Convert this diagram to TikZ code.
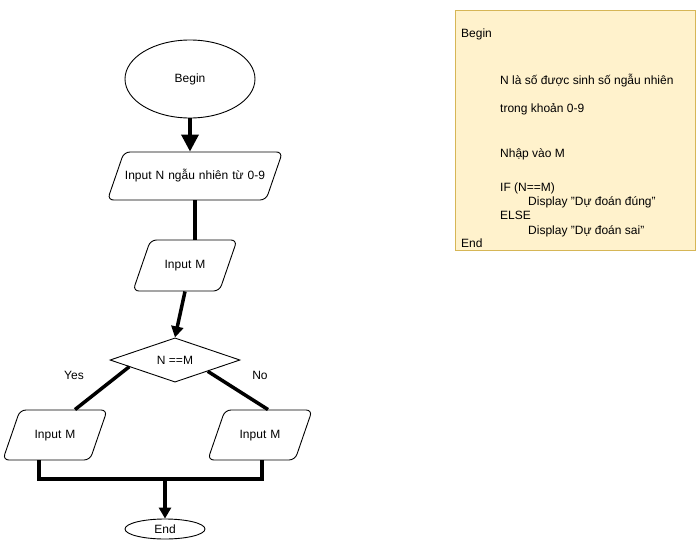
\documentclass[tikz,border=0pt]{standalone}
\usepackage{fontspec}
\setmainfont{Liberation Sans}
\usetikzlibrary{shapes.geometric,arrows.meta,calc}
\definecolor{notefill}{HTML}{FFF2CC}
\definecolor{noteborder}{HTML}{D6B656}
\begin{document}
\begin{tikzpicture}[x=1pt,y=-1pt,
  every node/.style={font=\fontsize{12}{14}\selectfont, inner sep=0pt},
  term/.style={ellipse,draw,line width=0.9pt,fill=white},
  % parallelogram: body width and height are set through text width and inner ysep
  io/.style={trapezium,trapezium left angle=71,trapezium right angle=109,
    draw,line width=0.9pt,rounded corners=6pt,align=center,
    text height=9pt,text depth=3pt,inner xsep=0pt},
  dec/.style={diamond,draw,line width=0.9pt,minimum width=130pt,minimum height=40pt},
  flow/.style={line width=3.5pt},
  flowarrow/.style={flow,-{Triangle[length=11pt,width=12pt]}},
  flowbig/.style={flow,-{Triangle[length=17pt,width=17pt]}},
  note/.style={draw=noteborder,fill=notefill,line width=0.9pt},
  code/.style={anchor=base west}
]
\useasboundingbox (0,0) rectangle (696,541);

% flowchart shapes
\node[term, minimum width=130pt, minimum height=78pt] (begin) at (190,79) {Begin};
\node[io, text width=142pt, inner ysep=18pt] (in1) at (195,176) {Input N ngẫu nhiên từ 0-9};
\node[io, text width=69pt, inner ysep=19.5pt] (in2) at (185,265.5) {Input M};
\node[dec] (cmp) at (175,360) {N ==M};
\node[io, text width=70pt, inner ysep=19pt] (outy) at (55,435) {Input M};
\node[io, text width=70pt, inner ysep=19pt] (outn) at (260,435) {Input M};
\node[term, minimum width=80pt, minimum height=20pt] (end) at (165,529) {End};

% branch labels
\node (yes) at (74,375) {Yes};
\node (no) at (260,375) {No};

% connectors
\draw[flowbig] (begin.south) -- (begin.south |- in1.north);
\draw[flow] (in1.south) -- (in1.south |- in2.north);
\draw[flowarrow] (in2.south) -- (cmp.north);
\draw[flow] ($(cmp.west)!0.3!(cmp.south)$) -- ($(outy.north)+(20,0)$);
\draw[flow] ($(cmp.east)!0.5!(cmp.south)$) -- ($(outn.north)+(8,0)$);

% merge bar
\coordinate (jl) at (39,479);
\coordinate (jr) at (262,479);
\coordinate (jm) at (165,479);
\draw[flow] (outy.south -| jl) -- (jl);
\draw[flow] (outn.south -| jr) -- (jr);
\draw[flow, line cap=rect] (jl) -- (jr);
\draw[flowarrow] (jm) -- (end.north);

% pseudocode note
\node[note, minimum width=240pt, minimum height=240pt] (pseudo) at (575,130) {};
\node[code] (l1) at (461,37) {Begin};
\node[code] (l2) at (500,84) {N là số được sinh số ngẫu nhiên};
\node[code] (l3) at (500,112) {trong khoản 0-9};
\node[code] (l4) at (500,157) {Nhập vào M};
\node[code] (l5) at (500,191) {IF (N==M)};
\node[code] (l6) at (528,205) {Display "Dự đoán đúng"};
\node[code] (l7) at (500,219) {ELSE};
\node[code] (l8) at (528,234) {Display "Dự đoán sai"};
\node[code] (l9) at (461,247) {End};
\end{tikzpicture}
\end{document}
